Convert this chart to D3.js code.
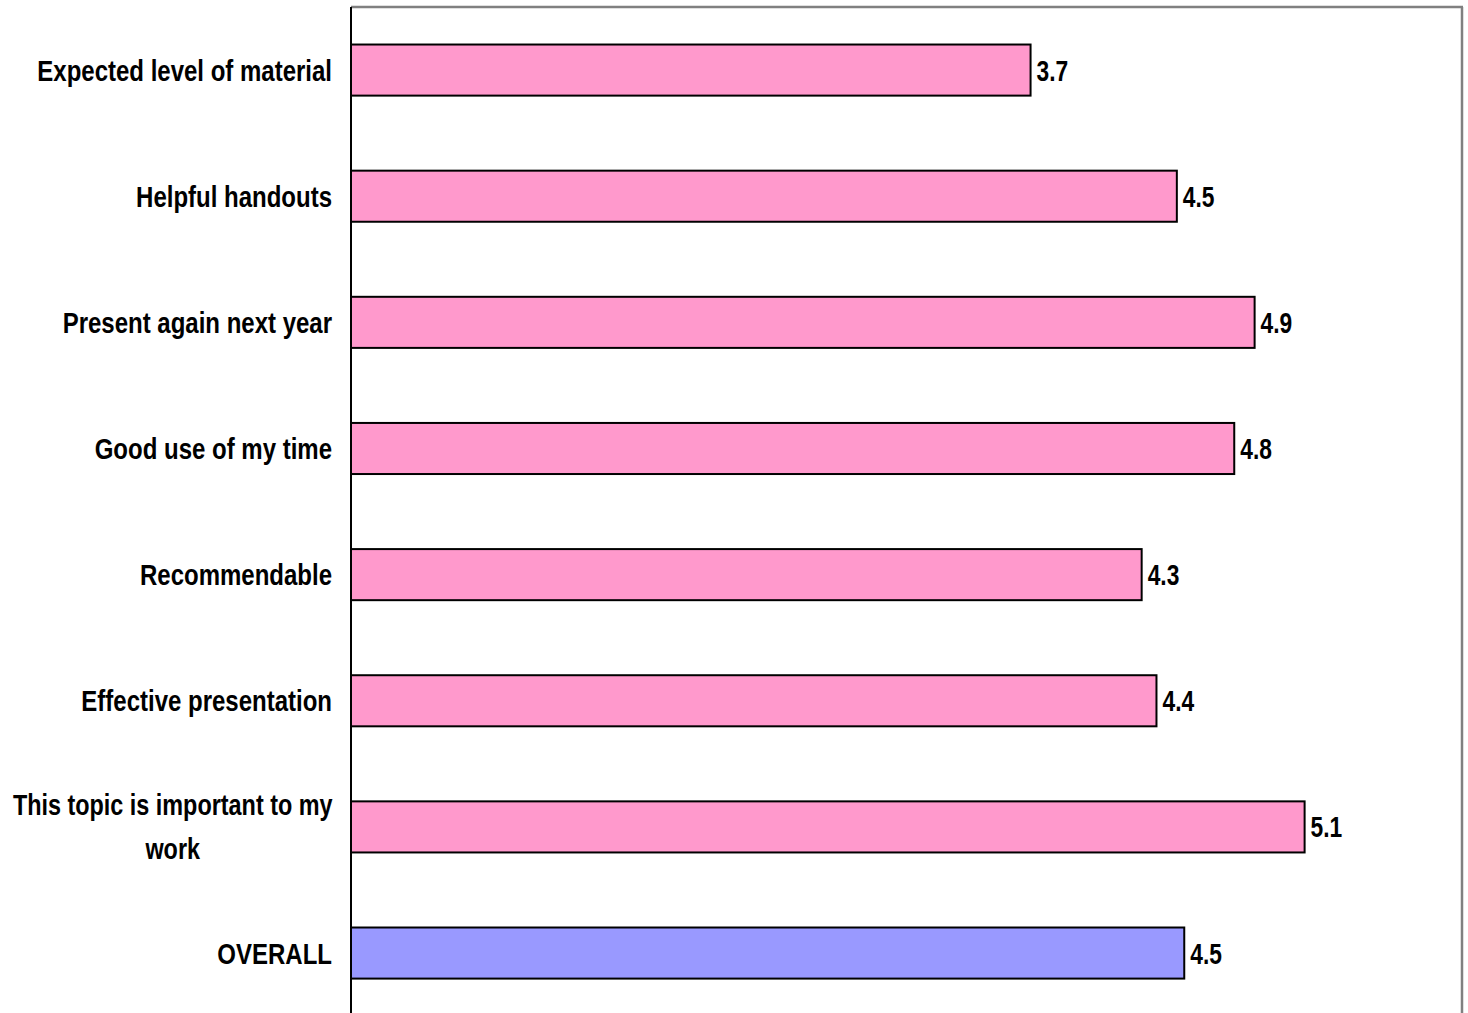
<!DOCTYPE html>
<html><head><meta charset="utf-8">
<script src="https://cdn.jsdelivr.net/npm/d3@7"></script>
<style>body{margin:0;background:#fff}svg{display:block}</style>
</head><body>
<svg id="c" width="1468" height="1013"></svg>
<script>
const categories = [
  ["Expected level of material"],
  ["Helpful handouts"],
  ["Present again next year"],
  ["Good use of my time"],
  ["Recommendable"],
  ["Effective presentation"],
  ["This topic is important to my", "work"],
  ["OVERALL"]
];
const values = [3.67, 4.46, 4.88, 4.77, 4.27, 4.35, 5.15, 4.50];
const valueLabels = ["3.7", "4.5", "4.9", "4.8", "4.3", "4.4", "5.1", "4.5"];
const barColors = ["#FF99CC","#FF99CC","#FF99CC","#FF99CC","#FF99CC","#FF99CC","#FF99CC","#9999FF"];

const svg = d3.select("#c");
const L = 351, R = 1462, T = 7, band = 126.14;
const x = d3.scaleLinear().domain([0, 6]).range([L, R]);
const y = d3.scaleBand().domain(d3.range(categories.length)).range([T, T + band * categories.length]).paddingInner(0.595).paddingOuter(0.2975);

const font = "'Liberation Sans', Arial, sans-serif";
const sxCat = 0.80, sxMulti = 0.78, sxVal = 0.76;

// border
svg.append("line").attr("x1", L).attr("x2", R + 1).attr("y1", T).attr("y2", T).attr("stroke", "#808080").attr("stroke-width", 2.5);
svg.append("line").attr("x1", R).attr("x2", R).attr("y1", T).attr("y2", 1013).attr("stroke", "#808080").attr("stroke-width", 2.5);

// bars
svg.selectAll("rect.bar").data(values).enter().append("rect")
  .attr("x", x(0)).attr("y", (d, i) => y(i))
  .attr("width", d => x(d) - x(0)).attr("height", y.bandwidth())
  .attr("fill", (d, i) => barColors[i]).attr("stroke", "#000").attr("stroke-width", 2);

// axis
const ax = svg.append("g").attr("transform", `translate(${L},0)`).call(d3.axisLeft(y).tickSize(0).tickFormat(""));
ax.select(".domain").attr("stroke", "#000").attr("stroke-width", 2).attr("d", `M0,${T}V1013`);

// category labels
const fs = 30;
categories.forEach((lines, i) => {
  const cy = y(i) + y.bandwidth() / 2;
  const n = lines.length;
  const g = svg.append("g").attr("transform", n === 1 ? `translate(332,${cy}) scale(${sxCat},1)` : `translate(333,${cy}) scale(${sxMulti},1)`);
  const lh = 44;
  const t = g.append("text").attr("font-family", font).attr("font-weight", "bold").attr("font-size", fs).attr("fill", "#000");
  lines.forEach((s, k) => {
    t.append("tspan").attr("x", 0).attr("y", (k - (n - 1) / 2) * lh).attr("dy", "0.35em").text(s);
  });
  if (n === 1) {
    t.attr("text-anchor", "end");
  } else {
    const w = t.node().getBBox().width;
    t.attr("text-anchor", "middle").selectAll("tspan").attr("x", -w / 2);
  }
});

// value labels
values.forEach((v, i) => {
  const cy = y(i) + y.bandwidth() / 2;
  svg.append("g").attr("transform", `translate(${x(v) + 6},${cy}) scale(${sxVal},1)`)
    .append("text").attr("font-family", font).attr("font-weight", "bold").attr("font-size", fs)
    .attr("dy", "0.35em").attr("fill", "#000").text(valueLabels[i]);
});
</script>
</body></html>
